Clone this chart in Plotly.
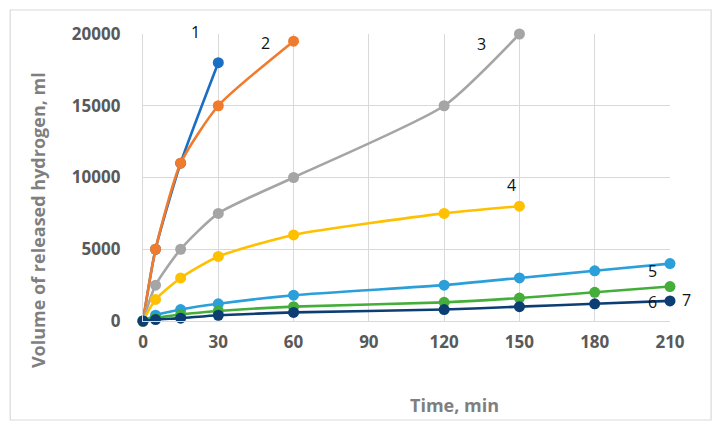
import plotly.graph_objects as go

# Data
t1 = [0, 5, 15, 30]
v1 = [0, 5000, 11000, 18000]
t2 = [0, 5, 15, 30, 60]
v2 = [0, 5000, 11000, 15000, 19500]
t3 = [0, 5, 15, 30, 60, 120, 150]
v3 = [0, 2500, 5000, 7500, 10000, 15000, 20000]
t4 = [0, 5, 15, 30, 60, 120, 150]
v4 = [0, 1500, 3000, 4500, 6000, 7500, 8000]
t5 = [0, 5, 15, 30, 60, 120, 150, 180, 210]
v5 = [0, 400, 800, 1200, 1800, 2500, 3000, 3500, 4000]
t6 = [0, 5, 15, 30, 60, 120, 150, 180, 210]
v6 = [0, 200, 450, 700, 1000, 1300, 1600, 2000, 2400]
t7 = [0, 5, 15, 30, 60, 120, 150, 180, 210]
v7 = [0, 100, 200, 400, 600, 800, 1000, 1200, 1400]

series_names = ["1", "2", "3", "4", "5", "6", "7"]
label_x = [21, 49, 135, 147, 203, 203, 210]
label_y = [20000, 19400, 19300, 9450, 3500, 1330, 1450]
label_dx = [0, 0, 0, 0, 0, 0, 16]
label_dy = [2, 0, 0, 0, 0, 0, 0]

x_ticks = [0, 30, 60, 90, 120, 150, 180, 210]
y_ticks = [0, 5000, 10000, 15000, 20000]
y_tick_text = ["0", "5000", "10000", "15000", "20000"]

x_title = "Time, min"
y_title = "Volume of released hydrogen, ml"

colors = ["#1A6FC4", "#F07B2D", "#A5A5A5", "#FFC000", "#2A9FDA", "#45AE3A", "#0C3E74"]
data = [(t1, v1), (t2, v2), (t3, v3), (t4, v4), (t5, v5), (t6, v6), (t7, v7)]

fig = go.Figure()
for (t, v), c, n in zip(data, colors, series_names):
    fig.add_trace(go.Scatter(
        x=t, y=v, mode="lines+markers", name=n,
        line=dict(color=c, width=2.6, shape="spline", smoothing=0.6),
        marker=dict(color=c, size=11),
        cliponaxis=False,
    ))

for n, lx, ly, dx, dy in zip(series_names, label_x, label_y, label_dx, label_dy):
    fig.add_annotation(x=lx, y=ly, text=n, showarrow=False, xshift=dx, yshift=dy,
                       font=dict(family="Open Sans", size=16, color="#111111"))

grid = "#D9D9D9"
tick_font = dict(family="Open Sans", size=17, color="#595959", weight="bold")
title_font = dict(family="Open Sans", size=18, color="#7F7F7F", weight="bold")

fig.add_annotation(xref="paper", yref="paper", x=0.592, y=-0.293, text=x_title,
                   showarrow=False, font=title_font, xanchor="center", yanchor="middle")
fig.add_annotation(xref="paper", yref="paper", x=-0.199, y=0.352, text=y_title,
                   showarrow=False, font=title_font, textangle=-90,
                   xanchor="center", yanchor="middle")

fig.update_layout(
    width=719, height=430,
    margin=dict(l=143, r=49, t=34, b=109),
    paper_bgcolor="white", plot_bgcolor="white",
    showlegend=False,
    xaxis=dict(range=[0, 210], tickvals=x_ticks, showgrid=True, gridcolor=grid, gridwidth=1.3,
               zeroline=False, showline=True, linecolor=grid, linewidth=1.3,
               tickfont=tick_font, ticks="", ticklabelstandoff=5),
    yaxis=dict(range=[0, 20000], tickvals=y_ticks, ticktext=y_tick_text, showgrid=True, gridcolor=grid, gridwidth=1.3,
               zeroline=False, showline=True, linecolor=grid, linewidth=1.3,
               tickfont=tick_font, ticks="", ticklabelstandoff=18),
    shapes=[dict(type="rect", xref="paper", yref="paper",
                 x0=-0.252, x1=1.078, y0=-0.345, y1=1.0836,
                 line=dict(color="#D9D9D9", width=1.2), layer="below")],
)

fig.write_html("out.html")
